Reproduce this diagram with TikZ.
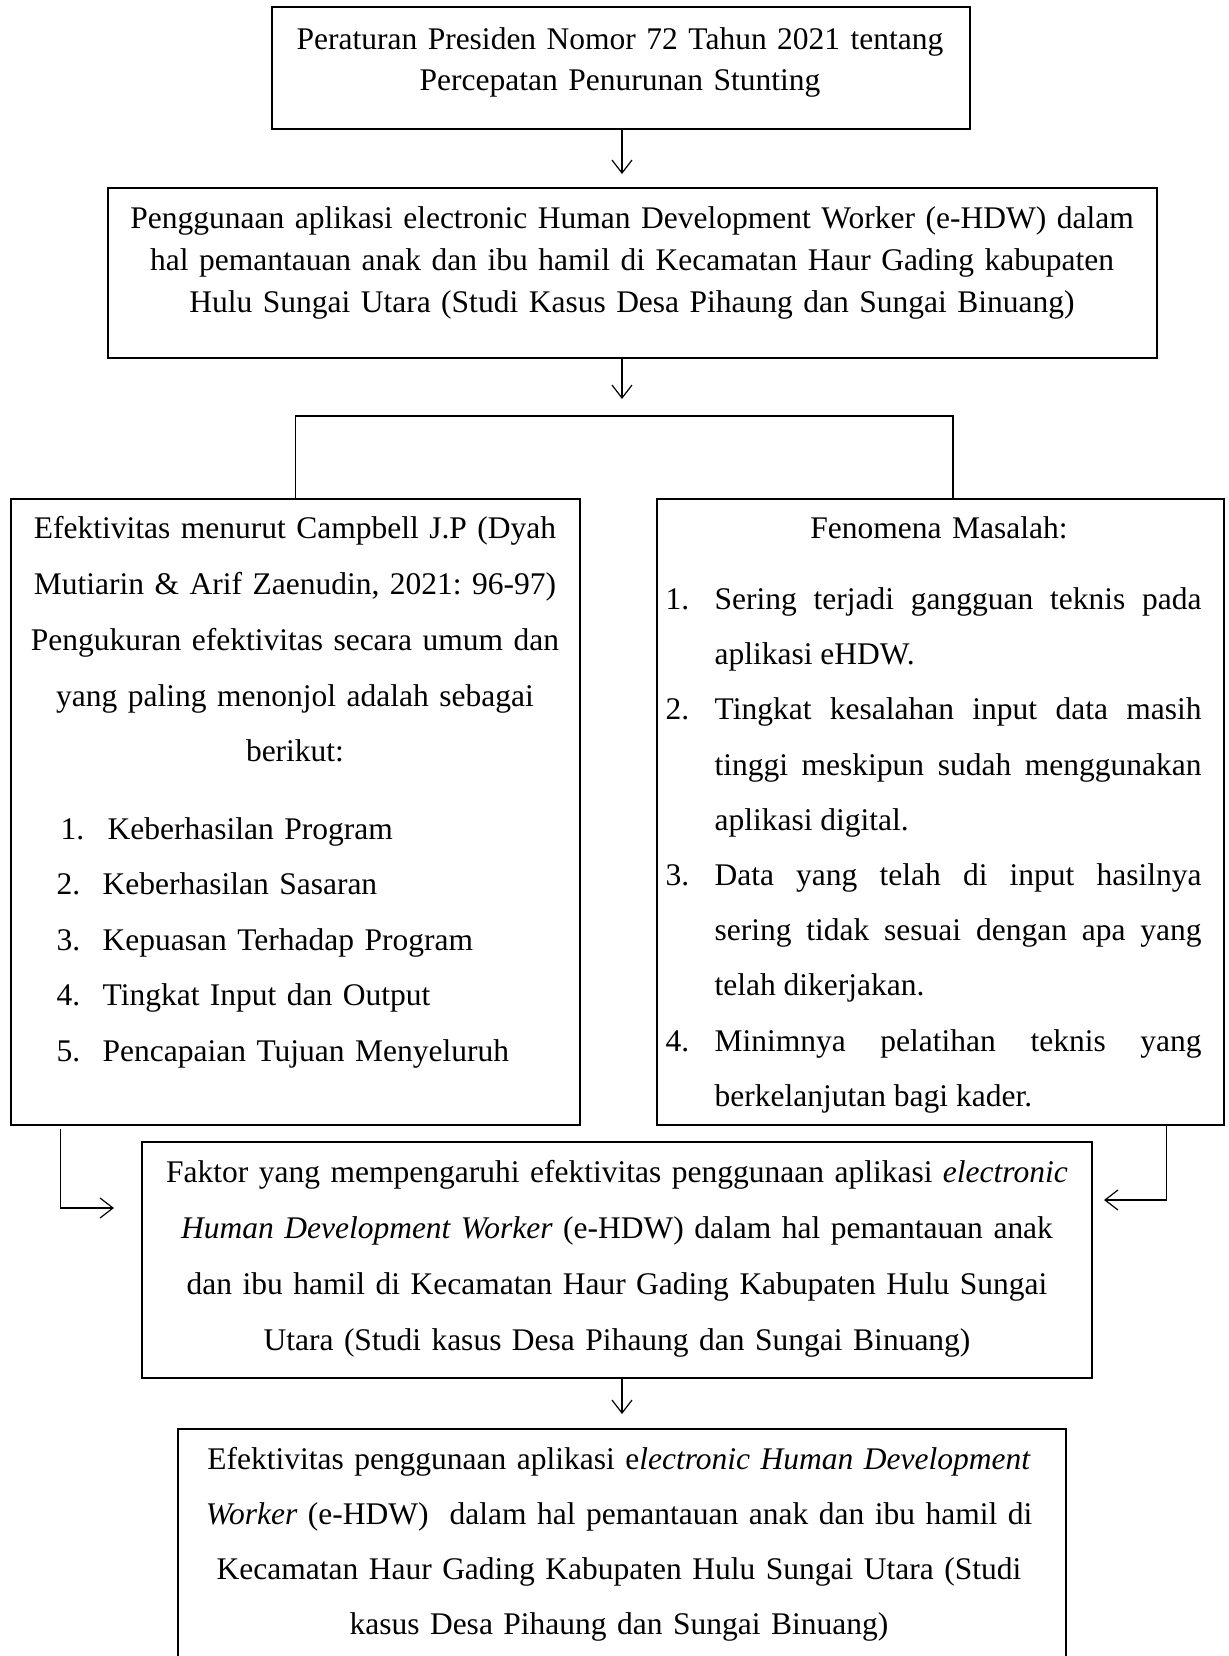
\documentclass[tikz,border=0pt]{standalone}
\usepackage{fontspec}
\setmainfont{Liberation Serif}
\usetikzlibrary{positioning,arrows.meta}
\frenchspacing

\newlength{\litemind}
\newcommand{\litem}[2]{\noindent\hangindent=\litemind\hangafter=1\makebox[\litemind][l]{#1}#2\par}

\begin{document}
\begin{tikzpicture}[
    x=0.5pt, y=-0.5pt,
    line width=0.6pt,
    >={Straight Barb[length=6.5pt,width=10pt]},
    box/.style={draw, rectangle, inner sep=0pt},
    txt/.style={inner sep=0pt, anchor=north, align=center, font=\fontsize{15.75}{#1}\selectfont},
    daftar/.style={inner sep=0pt, anchor=north west, font=\fontsize{15.75}{#1}\selectfont}
]
\path[use as bounding box, clip] (0,0) rectangle (1229,1656);

% Boxes
\node[box, minimum width=349pt, minimum height=61pt] (perpres) at (621,68) {};
\node[box, minimum width=524.5pt, minimum height=85pt] (ehdw) at (632.5,273) {};
\node[box, minimum width=284.5pt, minimum height=313pt] (teori) at (295.5,812) {};
\node[box, minimum width=283.5pt, minimum height=313pt] (fenomena) at (940.5,812) {};
\node[box, minimum width=475pt, minimum height=118pt] (faktor) at (617,1260) {};
\node[box, minimum width=444pt, minimum height=140pt] (hasil) at (622,1569) {};

% Texts
\node[txt=20.5, text width=345pt] (perpres-t) at (620,27)
  {Peraturan Presiden Nomor 72 Tahun 2021 tentang\\ Percepatan Penurunan Stunting};
\node[txt=21.1, text width=520pt] (ehdw-t) at (632,206)
  {Penggunaan aplikasi electronic Human Development Worker (e-HDW) dalam\\
   hal pemantauan anak dan ibu hamil di Kecamatan Haur Gading kabupaten\\
   Hulu Sungai Utara (Studi Kasus Desa Pihaung dan Sungai Binuang)};
\node[txt=27.9, text width=280pt] (teori-t) at (295,516)
  {Efektivitas menurut Campbell J.P (Dyah\\ Mutiarin \& Arif Zaenudin, 2021: 96-97)\\
   Pengukuran efektivitas secara umum dan\\ yang paling menonjol adalah sebagai\\ berikut:};
\node[daftar=27.75, text width=250pt, align=left] (teori-l) at (56,817)
  {\setlength{\litemind}{23pt}%
   \litem{\hspace*{2pt}1.}{\hspace*{2.5pt}Keberhasilan Program}
   \litem{2.}{Keberhasilan Sasaran}
   \litem{3.}{Kepuasan Terhadap Program}
   \litem{4.}{Tingkat Input dan Output}
   \litem{5.}{Pencapaian Tujuan Menyeluruh}};
\node[txt=27.6, text width=280pt] (fenomena-t) at (939,516) {Fenomena Masalah:};
\node[daftar=27.6, text width=268pt, align=justify] (fenomena-l) at (665,587)
  {\setlength{\litemind}{24.5pt}%
   \litem{1.}{Sering terjadi gangguan teknis pada\linebreak aplikasi eHDW.}
   \litem{2.}{Tingkat kesalahan input data masih\linebreak tinggi meskipun sudah menggunakan\linebreak aplikasi digital.}
   \litem{3.}{Data yang telah di input hasilnya\linebreak sering tidak sesuai dengan apa yang\linebreak telah dikerjakan.}
   \litem{4.}{Minimnya pelatihan teknis yang\linebreak berkelanjutan bagi kader.}};
\node[txt=28, text width=470pt] (faktor-t) at (617,1160)
  {Faktor yang mempengaruhi efektivitas penggunaan aplikasi \textit{electronic}\\
   \textit{Human Development Worker} (e-HDW) dalam hal pemantauan anak\\
   dan ibu hamil di Kecamatan Haur Gading Kabupaten Hulu Sungai\\
   Utara (Studi kasus Desa Pihaung dan Sungai Binuang)};
\node[txt=27.5, text width=440pt] (hasil-t) at (619,1447)
  {Efektivitas penggunaan aplikasi e\textit{lectronic Human Development}\\
   \textit{Worker} (e-HDW)\ \ dalam hal pemantauan anak dan ibu hamil di\\
   Kecamatan Haur Gading Kabupaten Hulu Sungai Utara (Studi\\
   kasus Desa Pihaung dan Sungai Binuang)};

% Arrows
\coordinate (a1) at (622,174);
\coordinate (a2) at (622,399);
\coordinate (a3) at (622,1414);
\coordinate (cabang) at (622,416);
\coordinate (kiri) at (114,1208);
\coordinate (kanan) at (1104,1200);
\draw[->] (perpres.south -| a1) -- (a1);
\draw[->] (ehdw.south -| a2) -- (a2);
\draw (teori.north) |- (cabang) -| ([xshift=6.25pt]fenomena.north);
\draw[->] ([xshift=25pt,yshift=-1.5pt]teori.south west) |- (kiri);
\draw[->] ([xshift=-29pt]fenomena.south east) |- (kanan);
\draw[->] (faktor.south -| a3) -- (a3);

\end{tikzpicture}
\end{document}
